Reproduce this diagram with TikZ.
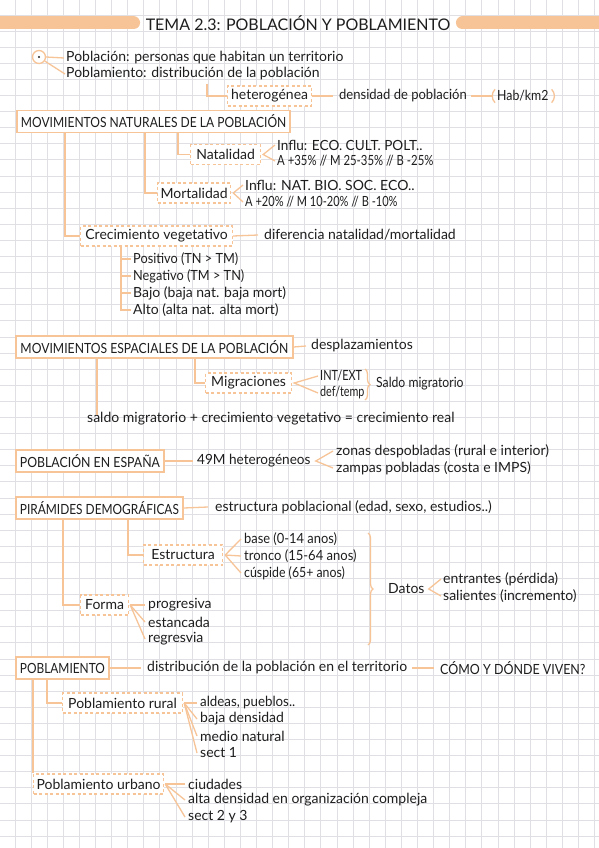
\documentclass[tikz,border=0pt]{standalone}
\usepackage{fontspec}
\setmainfont{Lato}
\usetikzlibrary{calc,decorations.pathreplacing}
\definecolor{peach}{RGB}{247,196,152}
\definecolor{gridc}{RGB}{224,224,228}
\definecolor{ink}{RGB}{30,30,30}
\begin{document}
\begin{tikzpicture}[x=1pt,y=-1pt,
  font=\fontsize{14}{16}\selectfont, text=ink,
  fx/.style={font=\fontsize{14}{16}\selectfont\addfontfeature{FakeStretch=#1}},
  box/.style={draw=peach, line width=1.8pt, fill=white, inner xsep=4pt, inner ysep=0pt, minimum height=22pt, anchor=west, fx=0.86},
  dbox/.style={draw=peach, dash pattern=on 3pt off 2.5pt, line width=1.2pt, fill=white, inner xsep=3pt, inner ysep=0pt, minimum height=20pt, anchor=west},
  txt/.style={anchor=west, inner sep=0pt},
  con/.style={draw=peach, line width=1.3pt},
  bar/.style={draw=peach, line width=13pt, line cap=round},
  brc/.style={draw=peach, line width=1.3pt, decorate, decoration={brace, amplitude=5pt}},
]
\useasboundingbox (0,0) rectangle (599,848);
\fill[white] (0,0) rectangle (599,848);
\foreach \i in {0,...,36} \draw[gridc, line width=0.9pt] ({15+16.1*\i},0) -- ({15+16.1*\i},848);
\foreach \j in {0,...,52} \draw[gridc, line width=0.9pt] (0,{15+16.1*\j}) -- (599,{15+16.1*\j});

% title
\node[font=\fontsize{16}{18}\selectfont, inner sep=3pt] (title) at (298,23) {TEMA 2.3: POBLACIÓN Y POBLAMIENTO};
\draw[bar] (-10,23) -- ([xshift=-9pt]title.west);
\draw[bar] ([xshift=9pt]title.east) -- (610,23);

% intro
\node[circle, draw=peach, line width=1.3pt, minimum size=13pt, inner sep=0pt, fill=white] (bullet) at (39,57) {};
\fill[ink] (bullet.center) circle (1.2);
\node[txt] (pob) at (66,58) {Población: personas que habitan un territorio};
\node[txt] (pobl) at (66,74) {Poblamiento: distribución de la población};
\draw[con] (bullet.east) -- ([xshift=-2pt]pob.west);
\draw[con] (bullet.-35) -- ([xshift=-1pt]pobl.west);
\node[dbox, minimum width=84pt] (het) at (227,96) {heterogénea};
\draw[con] ([xshift=141pt,yshift=-3pt]pobl.south west) |- (het.west);
\node[txt, fx=0.93] (dens) at (339,96) {densidad de población};
\draw[con] (het.east) -- ([xshift=-6pt]dens.west);
\node[txt, fx=0.88] (hab) at (497,96) {Hab/km2};
\draw[con] ([xshift=-2pt,yshift=1pt]hab.north west) to[bend right=45] ([xshift=-2pt,yshift=-1pt]hab.south west);
\draw[con] ([xshift=3pt,yshift=1pt]hab.north east) to[bend left=45] ([xshift=3pt,yshift=-1pt]hab.south east);
\draw[con] ([xshift=4pt]dens.east) -- ([xshift=-4pt]hab.west);

% movimientos naturales
\node[box, minimum width=268pt] (movnat) at (16,121.5) {MOVIMIENTOS NATURALES DE LA POBLACIÓN};
\node[dbox, minimum width=70pt] (nat) at (190,154.5) {Natalidad};
\node[dbox, minimum width=73pt] (mort) at (157,193) {Mortalidad};
\node[dbox, minimum width=152pt] (crec) at (80,236) {Crecimiento vegetativo};
\draw[con] ([xshift=162pt]movnat.south west) |- (nat.west);
\draw[con] ([xshift=129pt]movnat.south west) |- (mort.west);
\draw[con] ([xshift=49pt]movnat.south west) |- (crec.west);
\node[txt, fx=0.97] (natA) at (277,145) {Influ: ECO. CULT. POLT..};
\node[txt, fx=0.81] (natB) at (277,161) {A +35\% // M 25-35\% // B -25\%};
\draw[con] ([xshift=-2pt]natA.west) -- ([xshift=2pt]nat.east) -- ([xshift=-2pt]natB.west);
\node[txt] (mortA) at (245,185) {Influ: NAT. BIO. SOC. ECO..};
\node[txt, fx=0.79] (mortB) at (245,202) {A +20\% // M 10-20\% // B -10\%};
\draw[con] ([xshift=-2pt]mortA.west) -- ([xshift=2pt]mort.east) -- ([xshift=-2pt]mortB.west);
\node[txt] (dif) at (264,235) {diferencia natalidad/mortalidad};
\draw[con] (crec.east) -- ([xshift=-6pt]dif.west);
\node[txt, fx=0.91] (pos) at (133,259) {Positivo (TN > TM)};
\node[txt, fx=0.91] (neg) at (133,276) {Negativo (TM > TN)};
\node[txt] (bajo) at (133,293) {Bajo (baja nat. baja mort)};
\node[txt] (alto) at (133,310) {Alto (alta nat. alta mort)};
\coordinate (cv) at ([xshift=41pt]crec.south west);
\draw[con] (cv) |- ([xshift=-2pt]alto.west);
\foreach \n in {pos,neg,bajo} \draw[con] (cv |- \n.west) -- ([xshift=-2pt]\n.west);

% movimientos espaciales
\node[box, minimum width=277pt, fx=0.87] (movesp) at (15,347) {MOVIMIENTOS ESPACIALES DE LA POBLACIÓN};
\node[txt] (desp) at (311,346) {desplazamientos};
\draw[con] (movesp.east) -- ([xshift=-5pt]desp.west);
\node[dbox, minimum width=86pt] (mig) at (205,383) {Migraciones};
\draw[con] ([xshift=180pt]movesp.south west) |- (mig.west);
\node[txt, fx=0.78] (int) at (320,376) {INT/EXT};
\node[txt, fx=0.77] (def) at (320,393) {def/temp};
\draw[con] ([xshift=-2pt]int.west) -- ([xshift=2pt]mig.east) -- ([xshift=-2pt]def.west);
\coordinate (b1t) at (365,369);
\coordinate (b1b) at (365,400);
\draw[brc] (b1t) -- (b1b);
\node[txt, fx=0.87] (saldo) at (376,384) {Saldo migratorio};
\node[txt] (eq) at (87,419) {saldo migratorio + crecimiento vegetativo = crecimiento real};
\draw[con] ([xshift=82pt]movesp.south west) -- ([xshift=10pt,yshift=-3pt]eq.north west);

% poblacion en espana
\node[box, minimum width=147pt, fx=0.88] (esp) at (15,461) {POBLACIÓN EN ESPAÑA};
\node[txt, fx=0.97] (h49) at (197,461) {49M heterogéneos};
\draw[con] (esp.east) -- ([xshift=-4pt]h49.west);
\node[txt] (zon) at (336,451) {zonas despobladas (rural e interior)};
\node[txt] (zam) at (336,468) {zampas pobladas (costa e IMPS)};
\draw[con] ([xshift=-3pt]zon.west) -- ([xshift=5pt]h49.east) -- ([xshift=-3pt]zam.west);

% piramides
\node[box, minimum width=165pt, fx=0.85] (pir) at (15,508) {PIRÁMIDES DEMOGRÁFICAS};
\node[txt] (est) at (215,507) {estructura poblacional (edad, sexo, estudios..)};
\draw[con] (pir.east) -- ([xshift=-7pt]est.west);
\node[dbox, minimum width=79pt] (estr) at (143,555) {Estructura};
\node[dbox, minimum width=48pt] (forma) at (80,605) {Forma};
\draw[con] ([xshift=113pt]pir.south west) |- (estr.west);
\draw[con] ([xshift=48pt]pir.south west) |- (forma.west);
\node[txt, fx=0.92] (base) at (244,539) {base (0-14 anos)};
\node[txt, fx=0.93] (tron) at (244,556) {tronco (15-64 anos)};
\node[txt, fx=0.88] (cusp) at (244,573) {cúspide (65+ anos)};
\foreach \n in {base,tron,cusp} \draw[con] ([xshift=2pt]estr.east) -- ([xshift=-3pt]\n.west);
\node[txt] (prog) at (148,605) {progresiva};
\node[txt] (estan) at (148,622) {estancada};
\node[txt] (regr) at (148,639) {regresvia};
\foreach \n in {prog,estan,regr} \draw[con] ([xshift=1pt]forma.east) -- ([xshift=-3pt]\n.west);
\coordinate (b2t) at (368,533);
\coordinate (b2b) at (368,645);
\draw[brc] (b2t) -- (b2b);
\node[txt] (datos) at (388,589) {Datos};
\node[txt] (entr) at (443,579) {entrantes (pérdida)};
\node[txt] (sal) at (443,596) {salientes (incremento)};
\draw[con] ([xshift=-2pt]entr.west) -- ([xshift=4pt]datos.east) -- ([xshift=-2pt]sal.west);

% poblamiento
\node[box, minimum width=93pt, fx=0.85] (pobm) at (15,668) {POBLAMIENTO};
\node[txt] (distr) at (147,668) {distribución de la población en el territorio};
\node[txt, fx=0.89] (como) at (440,668) {CÓMO Y DÓNDE VIVEN?};
\draw[con] (pobm.east) -- ([xshift=-6pt]distr.west);
\draw[con] ([xshift=5pt]distr.east) -- ([xshift=-6pt]como.west);
\node[dbox, minimum width=120pt] (rural) at (62,703) {Poblamiento rural};
\node[dbox, minimum width=129pt] (urb) at (33,784) {Poblamiento urbano};
\draw[con] ([xshift=32pt]pobm.south west) |- (rural.west);
\draw[con] ([xshift=18pt]pobm.south west) -- (urb.north west);
\node[txt, fx=0.95] (ald) at (200,703) {aldeas, pueblos..};
\node[txt] (bden) at (200,719) {baja densidad};
\node[txt] (med) at (200,736) {medio natural};
\node[txt] (s1) at (200,753) {sect 1};
\foreach \n in {ald,bden,med,s1} \draw[con] ([xshift=1pt]rural.east) -- ([xshift=-3pt]\n.west);
\node[txt] (ciu) at (188,784) {ciudades};
\node[txt] (alta) at (188,800) {alta densidad en organización compleja};
\node[txt] (s23) at (188,817) {sect 2 y 3};
\foreach \n in {ciu,alta,s23} \draw[con] ([xshift=1pt]urb.east) -- ([xshift=-3pt]\n.west);
\end{tikzpicture}
\end{document}
